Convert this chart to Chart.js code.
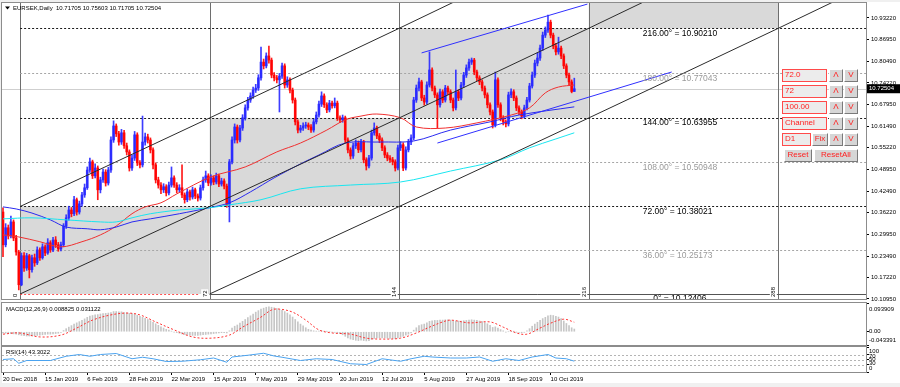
<!DOCTYPE html>
<html>
<head>
<meta charset="utf-8">
<script src="https://cdn.jsdelivr.net/npm/chart.js@4.4.1/dist/chart.umd.min.js"></script>
<style>
  html, body { margin: 0; padding: 0; background: #f0f0f0; }
  #wrap { position: relative; width: 900px; height: 387px; overflow: hidden; }
  #frame { position: absolute; left: 2px; top: 2px; width: 898px; height: 381px; background: #fff; }
  canvas { position: absolute; left: 0; }
  #main { top: 0; }
  #macd { top: 300px; }
  #rsi { top: 346px; }
  .ctl { position: absolute; box-sizing: border-box; height: 13px; line-height: 11px;
         font: 8px "Liberation Sans", Arial, sans-serif; color: #ff2020; white-space: nowrap; }
  .edit { border: 1px solid #ff4a4a; background: #ececec; padding-left: 2px; }
  .btn { border: 1px solid; border-color: #fff #7a7a7a #7a7a7a #fff; background: #d6d6d6; text-align: center; }
</style>
</head>
<body>
<div id="wrap">
  <div id="frame"></div>
  <canvas id="main" width="900" height="303" style="width:900px;height:303px"></canvas>
  <canvas id="macd" width="900" height="46" style="width:900px;height:46px"></canvas>
  <canvas id="rsi" width="900" height="41" style="width:900px;height:41px"></canvas>

  <div class="ctl edit" style="left:782px;top:69px;width:45px">72.0</div>
  <div class="ctl btn" style="left:829px;top:69px;width:14px">Λ</div>
  <div class="ctl btn" style="left:844px;top:69px;width:14px">V</div>
  <div class="ctl edit" style="left:782px;top:85px;width:45px">72</div>
  <div class="ctl btn" style="left:829px;top:85px;width:14px">Λ</div>
  <div class="ctl btn" style="left:844px;top:85px;width:14px">V</div>
  <div class="ctl edit" style="left:782px;top:101px;width:45px">100.00</div>
  <div class="ctl btn" style="left:829px;top:101px;width:14px">Λ</div>
  <div class="ctl btn" style="left:844px;top:101px;width:14px">V</div>
  <div class="ctl edit" style="left:782px;top:117px;width:45px">Channel</div>
  <div class="ctl btn" style="left:829px;top:117px;width:14px">Λ</div>
  <div class="ctl btn" style="left:844px;top:117px;width:14px">V</div>
  <div class="ctl edit" style="left:782px;top:133px;width:29px">D1</div>
  <div class="ctl btn" style="left:812px;top:133px;width:16px">Fix</div>
  <div class="ctl btn" style="left:829px;top:133px;width:14px">Λ</div>
  <div class="ctl btn" style="left:844px;top:133px;width:14px">V</div>
  <div class="ctl btn" style="left:784px;top:149px;width:28px">Reset</div>
  <div class="ctl btn" style="left:814px;top:149px;width:44px">ResetAll</div>
</div>
<script>
// EURSEK daily candles (bar 0 = 20 Dec 2018)
const opens = [
  10.364,10.268,10.318,10.294,10.335,10.288,10.247,10.151,10.236,10.200,
  10.236,10.195,10.230,10.215,10.253,10.230,10.262,10.244,10.274,10.253,
  10.282,10.268,10.256,10.268,10.323,10.347,10.370,10.359,10.400,10.364,
  10.388,10.414,10.435,10.487,10.511,10.470,10.493,10.429,10.458,10.481,
  10.449,10.487,10.575,10.616,10.593,10.569,10.596,10.558,10.540,10.493,
  10.522,10.590,10.508,10.502,10.569,10.584,10.575,10.546,10.502,10.458,
  10.443,10.429,10.438,10.420,10.443,10.464,10.443,10.429,10.435,10.414,
  10.400,10.423,10.408,10.429,10.411,10.405,10.435,10.458,10.470,10.449,
  10.464,10.452,10.470,10.446,10.455,10.440,10.385,10.511,10.575,10.613,
  10.575,10.610,10.640,10.669,10.692,10.704,10.721,10.727,10.757,10.803,
  10.792,10.821,10.809,10.765,10.757,10.751,10.762,10.792,10.736,10.751,
  10.721,10.692,10.628,10.604,10.610,10.616,10.619,10.613,10.604,10.628,
  10.648,10.680,10.704,10.678,10.663,10.683,10.675,10.683,10.640,10.634,
  10.640,10.575,10.546,10.528,10.558,10.566,10.546,10.569,10.517,10.499,
  10.522,10.596,10.610,10.587,10.575,10.552,10.531,10.522,10.517,10.511,
  10.493,10.552,10.561,10.493,10.546,10.569,10.581,10.692,10.727,10.745,
  10.698,10.686,10.736,10.780,10.727,10.707,10.678,10.716,10.692,10.727,
  10.716,10.692,10.669,10.716,10.698,10.736,10.765,10.786,10.803,10.809,
  10.774,10.757,10.745,10.727,10.707,10.678,10.657,10.619,10.751,10.678,
  10.640,10.628,10.622,10.707,10.716,10.698,10.669,10.657,10.645,10.669,
  10.692,10.733,10.765,10.800,10.815,10.844,10.882,10.897,10.920,10.882,
  10.850,10.833,10.844,10.821,10.792,10.765,10.745,10.71705
];
const highs = [
  10.376,10.330,10.326,10.352,10.341,10.296,10.252,10.244,10.245,10.243,
  10.240,10.238,10.241,10.262,10.259,10.271,10.268,10.286,10.280,10.290,
  10.292,10.275,10.276,10.330,10.356,10.381,10.377,10.410,10.405,10.396,
  10.422,10.446,10.496,10.522,10.516,10.505,10.499,10.466,10.490,10.488,
  10.495,10.584,10.631,10.622,10.600,10.606,10.603,10.566,10.546,10.531,
  10.600,10.596,10.515,10.645,10.595,10.592,10.581,10.552,10.508,10.466,
  10.450,10.447,10.444,10.452,10.496,10.470,10.450,10.444,10.502,10.420,
  10.431,10.428,10.437,10.434,10.417,10.443,10.466,10.484,10.476,10.473,
  10.470,10.478,10.475,10.463,10.461,10.446,10.518,10.584,10.622,10.619,
  10.618,10.649,10.678,10.700,10.713,10.730,10.738,10.766,10.847,10.812,
  10.830,10.850,10.815,10.772,10.764,10.770,10.800,10.798,10.760,10.757,
  10.727,10.698,10.634,10.618,10.625,10.627,10.625,10.620,10.636,10.657,
  10.689,10.716,10.710,10.684,10.691,10.689,10.698,10.689,10.646,10.648,
  10.645,10.581,10.552,10.566,10.575,10.572,10.577,10.574,10.523,10.530,
  10.604,10.625,10.616,10.594,10.581,10.558,10.538,10.529,10.524,10.517,
  10.560,10.570,10.567,10.555,10.577,10.590,10.700,10.736,10.756,10.750,
  10.706,10.745,10.833,10.786,10.733,10.713,10.724,10.722,10.735,10.733,
  10.722,10.698,10.780,10.722,10.744,10.773,10.795,10.812,10.815,10.814,
  10.780,10.763,10.751,10.733,10.713,10.684,10.663,10.774,10.757,10.684,
  10.646,10.634,10.715,10.725,10.722,10.704,10.675,10.663,10.677,10.700,
  10.741,10.774,10.809,10.830,10.853,10.891,10.906,10.941,10.926,10.888,
  10.858,10.876,10.850,10.827,10.798,10.771,10.751,10.75603
];
const lows = [
  10.233,10.262,10.285,10.288,10.280,10.238,10.136,10.148,10.190,10.193,
  10.171,10.188,10.205,10.210,10.222,10.226,10.236,10.240,10.246,10.248,
  10.260,10.249,10.250,10.262,10.316,10.340,10.350,10.353,10.355,10.358,
  10.381,10.407,10.430,10.480,10.462,10.464,10.400,10.420,10.451,10.440,
  10.443,10.480,10.568,10.585,10.560,10.562,10.550,10.531,10.484,10.486,
  10.515,10.500,10.493,10.496,10.560,10.566,10.537,10.490,10.449,10.434,
  10.418,10.421,10.411,10.414,10.437,10.436,10.420,10.422,10.406,10.390,
  10.394,10.399,10.402,10.403,10.396,10.399,10.428,10.451,10.441,10.443,
  10.444,10.446,10.438,10.440,10.432,10.378,10.335,10.505,10.566,10.566,
  10.569,10.603,10.633,10.662,10.685,10.697,10.714,10.720,10.750,10.783,
  10.786,10.800,10.757,10.748,10.742,10.657,10.755,10.727,10.729,10.713,
  10.683,10.619,10.596,10.597,10.603,10.609,10.605,10.597,10.598,10.622,
  10.642,10.673,10.670,10.655,10.657,10.668,10.669,10.632,10.626,10.627,
  10.567,10.537,10.519,10.521,10.550,10.538,10.540,10.508,10.487,10.493,
  10.516,10.589,10.579,10.567,10.544,10.523,10.514,10.509,10.502,10.484,
  10.487,10.544,10.485,10.487,10.540,10.561,10.575,10.685,10.719,10.690,
  10.677,10.680,10.730,10.719,10.699,10.610,10.671,10.684,10.686,10.708,
  10.684,10.660,10.663,10.690,10.692,10.729,10.758,10.779,10.796,10.766,
  10.749,10.737,10.719,10.698,10.669,10.648,10.610,10.613,10.670,10.631,
  10.619,10.613,10.616,10.699,10.690,10.661,10.649,10.637,10.639,10.663,
  10.686,10.727,10.758,10.792,10.808,10.837,10.875,10.890,10.874,10.842,
  10.824,10.826,10.813,10.784,10.757,10.736,10.713,10.71705
];
const closes = [
  10.268,10.318,10.294,10.335,10.288,10.247,10.151,10.236,10.200,10.236,
  10.195,10.230,10.215,10.253,10.230,10.262,10.244,10.274,10.253,10.282,
  10.268,10.256,10.268,10.323,10.347,10.370,10.359,10.400,10.364,10.388,
  10.414,10.435,10.487,10.511,10.470,10.493,10.429,10.458,10.481,10.449,
  10.487,10.575,10.616,10.593,10.569,10.596,10.558,10.540,10.493,10.522,
  10.590,10.508,10.502,10.569,10.584,10.575,10.546,10.502,10.458,10.443,
  10.429,10.438,10.420,10.443,10.464,10.443,10.429,10.435,10.414,10.400,
  10.423,10.408,10.429,10.411,10.405,10.435,10.458,10.470,10.449,10.464,
  10.452,10.470,10.446,10.455,10.440,10.385,10.511,10.575,10.613,10.575,
  10.610,10.640,10.669,10.692,10.704,10.721,10.727,10.757,10.803,10.792,
  10.821,10.809,10.765,10.757,10.751,10.762,10.792,10.736,10.751,10.721,
  10.692,10.628,10.604,10.610,10.616,10.619,10.613,10.604,10.628,10.648,
  10.680,10.704,10.678,10.663,10.683,10.675,10.683,10.640,10.634,10.640,
  10.575,10.546,10.528,10.558,10.566,10.546,10.569,10.517,10.499,10.522,
  10.596,10.610,10.587,10.575,10.552,10.531,10.522,10.517,10.511,10.493,
  10.552,10.561,10.493,10.546,10.569,10.581,10.692,10.727,10.745,10.698,
  10.686,10.736,10.780,10.727,10.707,10.678,10.716,10.692,10.727,10.716,
  10.692,10.669,10.716,10.698,10.736,10.765,10.786,10.803,10.809,10.774,
  10.757,10.745,10.727,10.707,10.678,10.657,10.619,10.751,10.678,10.640,
  10.628,10.622,10.707,10.716,10.698,10.669,10.657,10.645,10.669,10.692,
  10.733,10.765,10.800,10.815,10.844,10.882,10.897,10.920,10.882,10.850,
  10.833,10.844,10.821,10.792,10.765,10.745,10.717,10.72504
];

// moving averages, sampled at a few bars
const redMaBars = [0,6,14,22,30,37,43,49,54,60,66,79,92,104,113,123,130,136,142,151,157,168,180,193,200,206,211,217];
const redMa = [10.297,10.291,10.277,10.262,10.277,10.297,10.323,10.359,10.379,10.391,10.417,10.467,10.496,10.540,10.566,10.604,10.634,10.645,10.651,10.640,10.613,10.610,10.625,10.648,10.669,10.713,10.730,10.736];
const blueMaBars = [0,5,11,18,24,32,37,43,49,56,67,78,86,94,103,113,120,130,143,156,170,185,196,217];
const blueMa = [10.379,10.373,10.361,10.341,10.320,10.315,10.312,10.320,10.335,10.344,10.359,10.376,10.391,10.423,10.464,10.505,10.531,10.566,10.569,10.572,10.604,10.628,10.648,10.672];
const cyanMaBars = [0,11,24,37,43,49,56,67,78,86,98,113,132,151,170,189,200,210,217];
const cyanMa = [10.344,10.347,10.341,10.335,10.335,10.347,10.359,10.370,10.376,10.385,10.400,10.432,10.443,10.452,10.484,10.517,10.552,10.578,10.596];

// blue channel drawn on the chart
const chanUpperBars = [159, 222];
const chanUpper = [10.830, 10.973];
const chanLowerBars = [165, 254];
const chanLower = [10.566, 10.774];

// Gann grid: start bar, bars per cell, levels
const gannStart = 6.5;
const gannStep = 72;
const gannDeg = [0, 36, 72, 108, 144, 180, 216, 252, 288];
const gannPrice = [10.12406, 10.25173, 10.38021, 10.50948, 10.63955, 10.77043, 10.90210, 11.03540, 11.17030];
const gannLabelBar = 243;
const gannZeroLabelBar = 247;

// MACD(12,26,9)
const macdMain = [
  -0.004,-0.005,-0.006,-0.006,-0.007,-0.008,
  -0.010,-0.012,-0.013,-0.014,-0.014,-0.014,-0.013,-0.012,-0.011,
  -0.010,-0.009,-0.008,-0.008,-0.007,-0.006,-0.005,
  -0.002,0.004,0.010,0.015,
  0.020,0.025,0.029,0.033,0.037,
  0.042,0.047,0.051,0.053,0.055,
  0.056,0.058,0.059,0.060,0.061,
  0.063,0.066,0.066,0.065,0.065,0.063,
  0.062,0.060,0.059,0.058,0.054,0.050,
  0.047,0.044,0.040,0.036,0.031,0.026,
  0.021,0.016,0.012,0.008,0.005,0.002,
  -0.001,-0.003,-0.005,-0.007,-0.009,-0.010,
  -0.011,-0.012,-0.012,-0.012,-0.011,-0.010,-0.009,
  -0.008,-0.007,-0.006,-0.005,-0.004,-0.003,-0.003,
  -0.004,0.003,0.012,0.018,0.022,0.028,
  0.034,0.040,0.046,0.052,0.058,
  0.064,0.069,0.074,0.077,0.080,
  0.081,0.080,0.078,0.076,0.073,
  0.070,0.066,0.061,0.055,0.048,
  0.040,0.032,0.025,0.019,0.013,
  0.008,0.005,0.003,0.002,0.002,
  0.003,0.002,0.001,0.000,-0.001,-0.002,
  -0.004,-0.006,-0.010,-0.015,-0.020,-0.024,
  -0.026,-0.028,-0.029,-0.028,-0.029,-0.030,
  -0.029,-0.025,-0.022,-0.020,-0.020,-0.020,
  -0.020,-0.021,-0.022,-0.022,-0.023,-0.020,
  -0.017,-0.015,-0.011,-0.008,-0.004,
  0.005,0.013,0.020,0.023,0.025,
  0.029,0.034,0.036,0.037,0.037,
  0.038,0.038,0.039,0.039,0.038,
  0.036,0.035,0.035,0.035,0.036,
  0.037,0.038,0.039,0.038,0.037,
  0.035,0.033,0.030,0.026,0.021,
  0.014,0.016,0.012,0.007,0.003,
  -0.001,0.000,0.001,0.001,-0.001,
  -0.002,-0.003,-0.002,0.003,0.010,
  0.018,0.025,0.031,0.037,0.043,
  0.047,0.052,0.054,0.053,0.050,
  0.048,0.043,0.035,0.027,0.020,
  0.013,0.008825
];
const macdSignalBars = [0,6,14,22,28,34,41,47,52,58,65,72,79,86,91,98,102,105,110,115,120,125,132,138,144,151,157,162,167,170,177,185,190,195,199,204,208,213,217];
const macdSignal = [-0.008,-0.004,-0.017,-0.011,0.012,0.038,0.055,0.061,0.055,0.032,0.006,-0.017,-0.021,-0.011,0.015,0.048,0.071,0.074,0.064,0.038,0.006,-0.004,-0.008,-0.021,-0.024,-0.021,-0.004,0.015,0.032,0.038,0.029,0.032,0.015,-0.004,-0.008,0.012,0.028,0.041,0.031122];
const macdMin = -0.043391;
const macdMax = 0.093909;

// RSI(14)
const rsiBars = [0,4,6,9,18,24,29,33,37,43,47,49,53,57,62,68,75,80,85,87,93,99,103,106,113,119,125,132,138,144,151,155,160,163,170,176,181,186,191,196,201,207,210,214,217];
const rsiVals = [50,53,35,46,46,63,70,63,70,74,60,53,59,53,42,43,49,56,39,60,67,75,64,59,46,53,50,33,30,53,43,53,63,60,56,56,60,43,53,46,60,70,56,53,43.3022];
const rsiLevels = [70, 50, 30];

// axes
const priceTicks = [10.93220,10.86950,10.80490,10.74220,10.67950,10.61490,10.55220,10.48950,10.42490,10.36220,10.29950,10.23490,10.17220,10.10950];
const dateBars = [0,16,32,48,64,80,96,112,128,144,160,176,192,208];
const dateLabels = ['20 Dec 2018','15 Jan 2019','6 Feb 2019','28 Feb 2019','22 Mar 2019','15 Apr 2019','7 May 2019','29 May 2019','20 Jun 2019','12 Jul 2019','5 Aug 2019','27 Aug 2019','18 Sep 2019','10 Oct 2019'];

const xMin = -0.38, xMax = 327.8;
const yMin = 10.1093, yMax = 10.9761;
const FONT = '"Liberation Sans", Arial, sans-serif';
const BULL = 'rgba(40,40,255,0.9)';
const BEAR = 'rgba(255,0,0,0.9)';

const last = closes.length - 1;
const bars = closes.map((_, i) => i);
const pts = (xs, ys) => xs.map((b, k) => ({x: b, y: ys[k]}));
const candleColor = c => closes[c.dataIndex] >= opens[c.dataIndex] ? BULL : BEAR;

// Gann lines: each rises one level per half cell
const gannLine = (barOff, lvlOff) => {
  const out = [];
  for (let k = 0; k + lvlOff < gannPrice.length; k++) {
    out.push({x: gannStart + barOff + k * gannStep / 2, y: gannPrice[k + lvlOff]});
  }
  return out;
};

const paneBorder = {
  id: 'paneBorder',
  afterDraw(chart) {
    const {ctx, chartArea: a} = chart;
    ctx.save();
    ctx.strokeStyle = '#8c8c8c';
    ctx.lineWidth = 1;
    ctx.strokeRect(a.left - 0.5, a.top - 0.5, a.width + 1, a.height + 1);
    ctx.restore();
  }
};

const gannGrid = {
  id: 'gannGrid',
  beforeDatasetsDraw(chart) {
    const {ctx, chartArea: a, scales: {x, y}} = chart;
    ctx.save();
    ctx.beginPath();
    ctx.rect(a.left, a.top, a.width, a.height);
    ctx.clip();

    // shaded cells
    ctx.fillStyle = '#d9d9d9';
    for (let k = 0; k < 4; k++) {
      const x0 = x.getPixelForValue(gannStart + k * gannStep);
      const x1 = x.getPixelForValue(gannStart + (k + 1) * gannStep);
      const yb = y.getPixelForValue(gannPrice[2 * k]);
      const yt = y.getPixelForValue(gannPrice[2 * k + 2]);
      ctx.fillRect(x0, yt, x1 - x0, yb - yt);
    }

    // bid line
    ctx.lineWidth = 1;
    ctx.strokeStyle = '#cfcfcf';
    const yBid = Math.round(y.getPixelForValue(closes[last])) + 0.5;
    ctx.beginPath(); ctx.moveTo(a.left, yBid); ctx.lineTo(a.right, yBid); ctx.stroke();

    // vertical cell lines
    ctx.strokeStyle = '#6e6e6e';
    for (let k = 0; k <= 4; k++) {
      const xv = Math.round(x.getPixelForValue(gannStart + k * gannStep)) + 0.5;
      ctx.beginPath(); ctx.moveTo(xv, a.top); ctx.lineTo(xv, a.bottom); ctx.stroke();
    }

    // level lines
    const xs = x.getPixelForValue(gannStart);
    for (let j = 1; j <= 6; j++) {
      const yl = Math.round(y.getPixelForValue(gannPrice[j])) + 0.5;
      ctx.setLineDash([2, 2]);
      ctx.strokeStyle = j % 2 ? '#a6a6a6' : '#1a1a1a';
      ctx.beginPath(); ctx.moveTo(xs, yl); ctx.lineTo(a.right, yl); ctx.stroke();
    }
    const y0 = Math.round(y.getPixelForValue(gannPrice[0])) + 0.5;
    const x72 = x.getPixelForValue(gannStart + gannStep);
    ctx.strokeStyle = '#ff5050';
    ctx.beginPath(); ctx.moveTo(xs, y0); ctx.lineTo(x72 - 10, y0); ctx.stroke();
    ctx.setLineDash([]);
    ctx.strokeStyle = '#555';
    ctx.beginPath(); ctx.moveTo(x72, y0); ctx.lineTo(a.right, y0); ctx.stroke();
    ctx.restore();
  },
  afterDatasetsDraw(chart) {
    const {ctx, chartArea: a, scales: {x, y}} = chart;
    ctx.save();
    ctx.beginPath();
    ctx.rect(a.left, a.top, a.width, a.height + 1);
    ctx.clip();
    ctx.font = '8.5px ' + FONT;
    ctx.textBaseline = 'middle';
    ctx.textAlign = 'left';
    for (let j = 0; j <= 6; j++) {
      const txt = (j === 0 ? '0' : gannDeg[j].toFixed(2)) + '° = ' + gannPrice[j].toFixed(5);
      ctx.fillStyle = j % 2 ? '#9a9a9a' : '#000';
      const lx = x.getPixelForValue(j === 0 ? gannZeroLabelBar : gannLabelBar);
      ctx.fillText(txt, lx, y.getPixelForValue(gannPrice[j]) + 5);
    }
    // bar count labels, written upwards
    ctx.font = '6px ' + FONT;
    ctx.textBaseline = 'bottom';
    for (let k = 0; k <= 4; k++) {
      const txt = String(k * gannStep);
      const xv = x.getPixelForValue(gannStart + k * gannStep);
      ctx.save();
      ctx.translate(xv - 1.5, a.bottom - 2);
      ctx.rotate(-Math.PI / 2);
      const w = ctx.measureText(txt).width;
      ctx.fillStyle = '#fff';
      ctx.fillRect(-1, -7, w + 2, 7);
      ctx.fillStyle = '#000';
      ctx.fillText(txt, 0, 0);
      ctx.restore();
    }
    ctx.restore();
  }
};

const mainText = {
  id: 'mainText',
  afterDraw(chart) {
    const {ctx, chartArea: a, scales: {y}} = chart;
    ctx.save();
    ctx.fillStyle = '#000';
    ctx.beginPath(); ctx.moveTo(5, 6.5); ctx.lineTo(10, 6.5); ctx.lineTo(7.5, 9.5); ctx.closePath(); ctx.fill();
    ctx.font = '6px ' + FONT;
    ctx.textBaseline = 'middle';
    ctx.textAlign = 'left';
    const ohlc = [opens[last], highs[last], lows[last], closes[last]].map(v => v.toFixed(5)).join(' ');
    ctx.fillText('EURSEK,Daily  ' + ohlc, 13, 8);
    const py = y.getPixelForValue(closes[last]);
    ctx.fillRect(a.right + 1, py - 4.5, 34, 9);
    ctx.fillStyle = '#fff';
    ctx.fillText(closes[last].toFixed(5), a.right + 3, py);
    ctx.restore();
  }
};

const macdText = {
  id: 'macdText',
  afterDraw(chart) {
    const {ctx, chartArea: a, scales: {y}} = chart;
    ctx.save();
    ctx.font = '6px ' + FONT;
    ctx.fillStyle = '#000';
    ctx.textBaseline = 'middle';
    ctx.fillText('MACD(12,26,9) ' + macdMain[last].toFixed(6) + ' ' + macdSignal[macdSignal.length - 1].toFixed(6), 6, a.top + 6);
    ctx.fillText(macdMax.toFixed(6), a.right + 3, y.getPixelForValue(macdMax) + 6);
    ctx.fillText('0.00', a.right + 3, y.getPixelForValue(0));
    ctx.fillText(macdMin.toFixed(6), a.right + 3, y.getPixelForValue(macdMin) - 5);
    ctx.restore();
  }
};

const rsiText = {
  id: 'rsiText',
  beforeDatasetsDraw(chart) {
    const {ctx, chartArea: a, scales: {y}} = chart;
    ctx.save();
    ctx.strokeStyle = '#b4b4b4';
    ctx.setLineDash([2, 2]);
    ctx.lineWidth = 1;
    rsiLevels.forEach(v => {
      const yl = Math.round(y.getPixelForValue(v)) + 0.5;
      ctx.beginPath(); ctx.moveTo(a.left, yl); ctx.lineTo(a.right, yl); ctx.stroke();
    });
    ctx.restore();
  },
  afterDraw(chart) {
    const {ctx, chartArea: a, scales: {y}} = chart;
    ctx.save();
    ctx.font = '6px ' + FONT;
    ctx.fillStyle = '#000';
    ctx.textBaseline = 'middle';
    ctx.fillText('RSI(14) ' + rsiVals[rsiVals.length - 1].toFixed(4), 6, a.top + 5);
    const offs = {100: 4, 70: 1.5, 50: 0, 30: -1.5, 0: -4};
    [100, 70, 50, 30, 0].forEach(v => {
      ctx.fillText(String(v), a.right + 3, y.getPixelForValue(v) + offs[v]);
    });
    ctx.restore();
  }
};

const baseOpts = (pad) => ({
  responsive: false,
  animation: false,
  events: [],
  layout: {padding: pad},
  plugins: {legend: {display: false}, tooltip: {enabled: false}}
});

const hiddenX = {type: 'linear', min: xMin, max: xMax, display: false, offset: false};
const rightAxis = (min, max, tickVals, showLabels) => ({
  position: 'right', min, max,
  afterBuildTicks: s => { s.ticks = tickVals.map(v => ({value: v})); },
  afterFit: s => { s.width = 34; s.paddingTop = 0; s.paddingBottom = 0; },
  ticks: {display: showLabels, font: {family: FONT, size: 6}, color: '#000', padding: 2,
          callback: v => Number(v).toFixed(5)},
  grid: {drawOnChartArea: false, tickLength: 3, color: '#000'},
  border: {display: true, color: '#000'}
});

// price pane
const mainOpts = baseOpts({left: 2, top: 3, right: 0, bottom: 4});
mainOpts.scales = {x: hiddenX, y: rightAxis(yMin, yMax, priceTicks, true)};
new Chart(document.getElementById('main'), {
  type: 'bar',
  data: {
    datasets: [
      {data: bars.map(i => ({x: i, y: [lows[i], highs[i]]})), backgroundColor: candleColor,
       barThickness: 1, grouped: false, order: 6},
      {data: bars.map(i => ({x: i, y: [opens[i], closes[i]]})), backgroundColor: candleColor,
       barThickness: 2, minBarLength: 1, grouped: false, order: 5},
      {type: 'line', data: pts(cyanMaBars, cyanMa), borderColor: '#19e6f0', borderWidth: 1, pointRadius: 0, tension: 0.35, order: 4},
      {type: 'line', data: pts(blueMaBars, blueMa), borderColor: '#2a2af0', borderWidth: 1, pointRadius: 0, tension: 0.35, order: 4},
      {type: 'line', data: pts(redMaBars, redMa), borderColor: '#f03030', borderWidth: 1, pointRadius: 0, tension: 0.35, order: 4},
      {type: 'line', data: gannLine(0, 0), borderColor: '#2b2b2b', borderWidth: 1, pointRadius: 0, order: 3},
      {type: 'line', data: gannLine(gannStep, 0), borderColor: '#2b2b2b', borderWidth: 1, pointRadius: 0, order: 3},
      {type: 'line', data: gannLine(0, 2), borderColor: '#2b2b2b', borderWidth: 1, pointRadius: 0, order: 3},
      {type: 'line', data: pts(chanUpperBars, chanUpper), borderColor: '#3030ff', borderWidth: 1, pointRadius: 0, order: 2},
      {type: 'line', data: pts(chanLowerBars, chanLower), borderColor: '#3030ff', borderWidth: 1, pointRadius: 0, order: 2}
    ]
  },
  options: mainOpts,
  plugins: [gannGrid, mainText, paneBorder]
});

// MACD pane
const macdOpts = baseOpts({left: 2, top: 3, right: 0, bottom: 1});
macdOpts.scales = {x: hiddenX, y: rightAxis(macdMin, macdMax, [macdMin, 0, macdMax], false)};
new Chart(document.getElementById('macd'), {
  type: 'bar',
  data: {
    datasets: [
      {type: 'line', data: pts(macdSignalBars, macdSignal), borderColor: '#ff3030', borderWidth: 1,
       borderDash: [2, 2], pointRadius: 0, tension: 0.35, order: 1},
      {data: bars.map(i => ({x: i, y: macdMain[i]})), backgroundColor: '#c6c6c6', barThickness: 1, grouped: false, order: 2}
    ]
  },
  options: macdOpts,
  plugins: [macdText, paneBorder]
});

// RSI pane with the date axis
const rsiOpts = baseOpts({left: 2, top: 1, right: 0, bottom: 0});
rsiOpts.scales = {
  x: {
    type: 'linear', min: xMin, max: xMax, position: 'bottom', offset: false,
    afterBuildTicks: s => { s.ticks = dateBars.map(v => ({value: v})); },
    afterFit: s => { s.height = 15; s.paddingLeft = 0; s.paddingRight = 0; },
    ticks: {autoSkip: false, maxRotation: 0, align: 'start', padding: 1,
            font: {family: FONT, size: 6}, color: '#000',
            callback: (v, i) => dateLabels[i]},
    grid: {drawOnChartArea: false, tickLength: 3, color: '#000'},
    border: {display: true, color: '#777'}
  },
  y: rightAxis(0, 100, [0, 30, 50, 70, 100], false)
};
new Chart(document.getElementById('rsi'), {
  type: 'line',
  data: {
    datasets: [
      {data: pts(rsiBars, rsiVals), borderColor: '#4aa3f0', borderWidth: 1, pointRadius: 0, tension: 0}
    ]
  },
  options: rsiOpts,
  plugins: [rsiText, paneBorder]
});
</script>
</body>
</html>
